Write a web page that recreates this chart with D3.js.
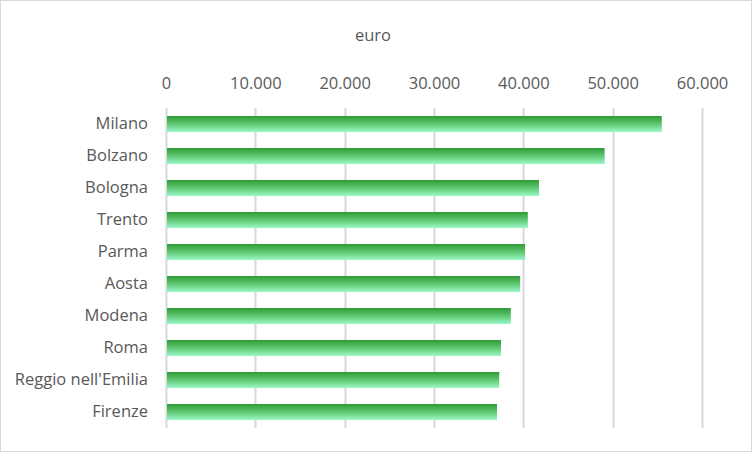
<!DOCTYPE html>
<html><head><meta charset="utf-8">
<script src="https://cdn.jsdelivr.net/npm/d3@7"></script>
<style>
body{margin:0;background:#fff;}
text{font-family:"Open Sans",Lato,sans-serif;fill:#595959;}
</style></head>
<body>
<svg id="c" width="752" height="452"></svg>
<script>
const categories = ["Milano","Bolzano","Bologna","Trento","Parma","Aosta","Modena","Roma","Reggio nell'Emilia","Firenze"];
const values = [55500, 49100, 41750, 40500, 40200, 39650, 38600, 37500, 37300, 37050];
const tickValues = [0,10000,20000,30000,40000,50000,60000];
const tickLabels = ["0","10.000","20.000","30.000","40.000","50.000","60.000"];
const unitLabel = "euro";
const FONT = "'Open Sans',Lato,sans-serif";
const FS = "16.5px";

const svg = d3.select("#c");
svg.append("rect").attr("x",0.5).attr("y",0.5).attr("width",751).attr("height",451)
  .attr("fill","#fff").attr("stroke","#d9d9d9");

const defs = svg.append("defs");
const g = defs.append("linearGradient").attr("id","bg").attr("x1",0).attr("y1",0).attr("x2",0).attr("y2",1);
g.append("stop").attr("offset","0%").attr("stop-color","#2f9a37");
g.append("stop").attr("offset","50%").attr("stop-color","#5fc872");
g.append("stop").attr("offset","100%").attr("stop-color","#9cf7c9");

const x = d3.scaleLinear().domain([0,60000]).range([166,702]);
const y = d3.scaleBand().domain(categories).range([108,428]).paddingInner(0.5).paddingOuter(0.25);

svg.append("g").selectAll("line").data(tickValues).join("line")
  .attr("x1",d=>Math.round(x(d))+0.5).attr("x2",d=>Math.round(x(d))+0.5)
  .attr("y1",108).attr("y2",428).attr("stroke","#d9d9d9").attr("stroke-width",2);

const ax = svg.append("g").attr("transform","translate(0,89)")
  .call(d3.axisTop(x).tickValues(tickValues).tickFormat((d,i)=>tickLabels[i]).tickSize(0).tickPadding(0));
ax.select(".domain").remove();
ax.selectAll("text").attr("font-size",FS).attr("fill","#595959").attr("dy",0).style("font-family",FONT);

svg.append("g").selectAll("rect").data(values).join("rect")
  .attr("x",x(0)+1).attr("y",(d,i)=>y(categories[i]))
  .attr("width",d=>x(d)-x(0)-1).attr("height",y.bandwidth())
  .attr("fill","url(#bg)");

const ay = svg.append("g").attr("transform","translate(148,0)")
  .call(d3.axisLeft(y).tickSize(0).tickPadding(0));
ay.select(".domain").remove();
ay.selectAll("text").attr("font-size",FS).attr("fill","#595959").style("font-family",FONT);

svg.append("text").attr("x",373).attr("y",41).attr("text-anchor","middle")
  .attr("font-size",FS).style("font-family",FONT).text(unitLabel);
</script>
</body></html>
